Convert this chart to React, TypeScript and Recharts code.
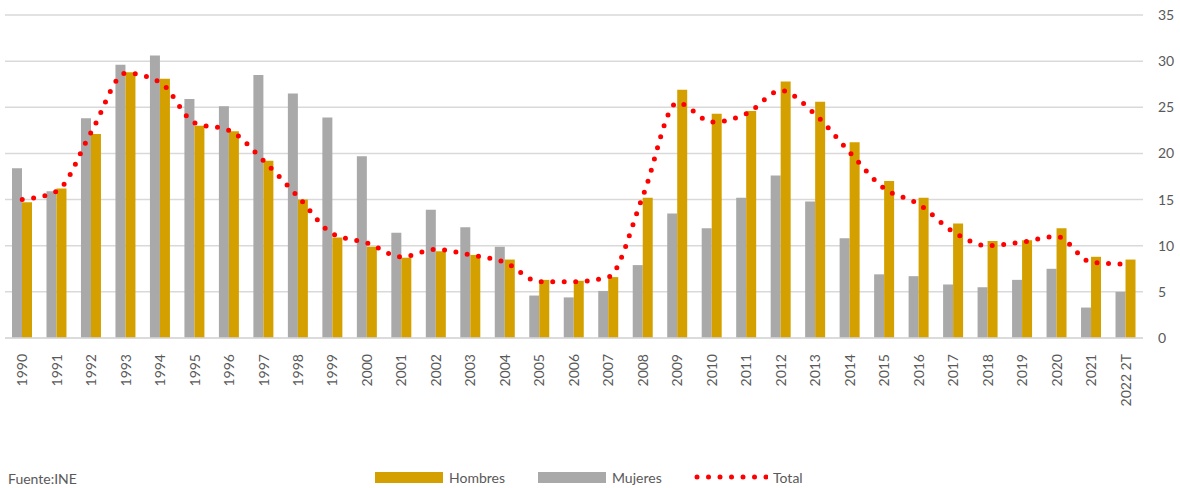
import { ComposedChart, Bar, Line, XAxis, YAxis, CartesianGrid, Legend } from 'recharts'

const years = [
	'1990', '1991', '1992', '1993', '1994', '1995', '1996', '1997', '1998', '1999',
	'2000', '2001', '2002', '2003', '2004', '2005', '2006', '2007', '2008', '2009',
	'2010', '2011', '2012', '2013', '2014', '2015', '2016', '2017', '2018', '2019',
	'2020', '2021', '2022 2T',
]

const mujeres = [
	18.4, 15.9, 23.8, 29.6, 30.6, 25.9, 25.1, 28.5, 26.5, 23.9,
	19.7, 11.4, 13.9, 12.0, 9.9, 4.6, 4.4, 5.1, 7.9, 13.5,
	11.9, 15.2, 17.6, 14.8, 10.8, 6.9, 6.7, 5.8, 5.5, 6.3,
	7.5, 3.3, 5.0,
]

const hombres = [
	14.7, 16.2, 22.1, 28.8, 28.1, 23.0, 22.4, 19.2, 15.0, 10.9,
	9.9, 8.7, 9.4, 9.0, 8.5, 6.3, 6.2, 6.6, 15.2, 26.9,
	24.3, 24.6, 27.8, 25.6, 21.2, 17.0, 15.2, 12.4, 10.5, 10.6,
	11.9, 8.8, 8.5,
]

const total = [
	15.0, 15.9, 22.3, 28.7, 27.7, 23.3, 22.5, 19.2, 15.3, 11.3,
	10.3, 8.8, 9.6, 9.0, 8.2, 6.1, 6.1, 6.6, 15.4, 25.5,
	23.4, 24.3, 26.8, 24.2, 20.1, 16.2, 14.5, 11.5, 10.0, 10.4,
	11.0, 8.2, 8.0,
]

const yTicks = [0, 5, 10, 15, 20, 25, 30, 35]

const GOLD = '#D4A000'
const GRAY = '#A9A9A9'
const RED = '#FF0000'
const TEXT = '#595959'
const FONT = 'Lato, "Noto Sans", sans-serif'

const data = years.map((year, i) => ({
	year,
	mujeres: mujeres[i],
	hombres: hombres[i],
	total: total[i],
}))

// rotated year labels, read bottom to top
function YearTick({ x, y, payload }: any) {
	return (
		<text
			x={x}
			y={y + 8}
			transform={`rotate(-90, ${x}, ${y + 8})`}
			textAnchor='end'
			dy='0.35em'
			fill={TEXT}
			fontSize={14}
			fontFamily={FONT}
		>
			{payload.value}
		</text>
	)
}

function ChartLegend() {
	return (
		<div style={{ position: 'relative', width: 1180, height: 22, fontFamily: FONT, fontSize: 14, color: TEXT }}>
			<div style={{ position: 'absolute', left: 8, top: 4, lineHeight: '18px' }}>Fuente:INE</div>
			<div style={{ position: 'absolute', left: 375, top: 0, height: 22, display: 'flex', alignItems: 'center' }}>
				<span style={{ width: 68, height: 11, background: GOLD, display: 'inline-block' }} />
				<span style={{ marginLeft: 6, width: 89 }}>Hombres</span>
				<span style={{ width: 68, height: 11, background: GRAY, display: 'inline-block' }} />
				<span style={{ marginLeft: 6, width: 82 }}>Mujeres</span>
				<svg width={74} height={8} style={{ display: 'inline-block' }}>
					{[0, 1, 2, 3, 4, 5, 6].map((k) => (
						<circle key={k} cx={3 + k * 11.5} cy={4} r={2.5} fill={RED} />
					))}
				</svg>
				<span style={{ marginLeft: 5 }}>Total</span>
			</div>
		</div>
	)
}

export default function App() {
	return (
		<div style={{ position: 'absolute', left: 0, top: 0, width: 1180, height: 488, background: '#fff' }}>
			<ComposedChart
				width={1180}
				height={488}
				data={data}
				barSize={10}
				barGap={0}
				margin={{ top: 15, right: 0, bottom: 0, left: 5 }}
			>
				<CartesianGrid vertical={false} stroke='#D9D9D9' strokeWidth={1.5} />
				<XAxis
					dataKey='year'
					interval={0}
					height={128}
					tickLine={false}
					axisLine={{ stroke: '#D9D9D9', strokeWidth: 1.5 }}
					tick={<YearTick />}
				/>
				<YAxis
					orientation='right'
					domain={[0, 35]}
					ticks={yTicks}
					width={37}
					axisLine={false}
					tickLine={false}
					tickSize={6}
					tickMargin={9}
					tick={{ fill: TEXT, fontSize: 14, fontFamily: FONT, textAnchor: 'start' }}
				/>
				<Legend
					verticalAlign='bottom'
					content={<ChartLegend />}
					wrapperStyle={{ left: 0, width: 1180, height: 22 }}
				/>
				<Bar dataKey='mujeres' name='Mujeres' fill={GRAY} isAnimationActive={false} />
				<Bar dataKey='hombres' name='Hombres' fill={GOLD} isAnimationActive={false} />
				<Line
					type='monotone'
					dataKey='total'
					name='Total'
					stroke={RED}
					strokeWidth={5}
					strokeLinecap='round'
					strokeDasharray='0 11.5'
					dot={false}
					activeDot={false}
					isAnimationActive={false}
				/>
			</ComposedChart>
		</div>
	)
}
